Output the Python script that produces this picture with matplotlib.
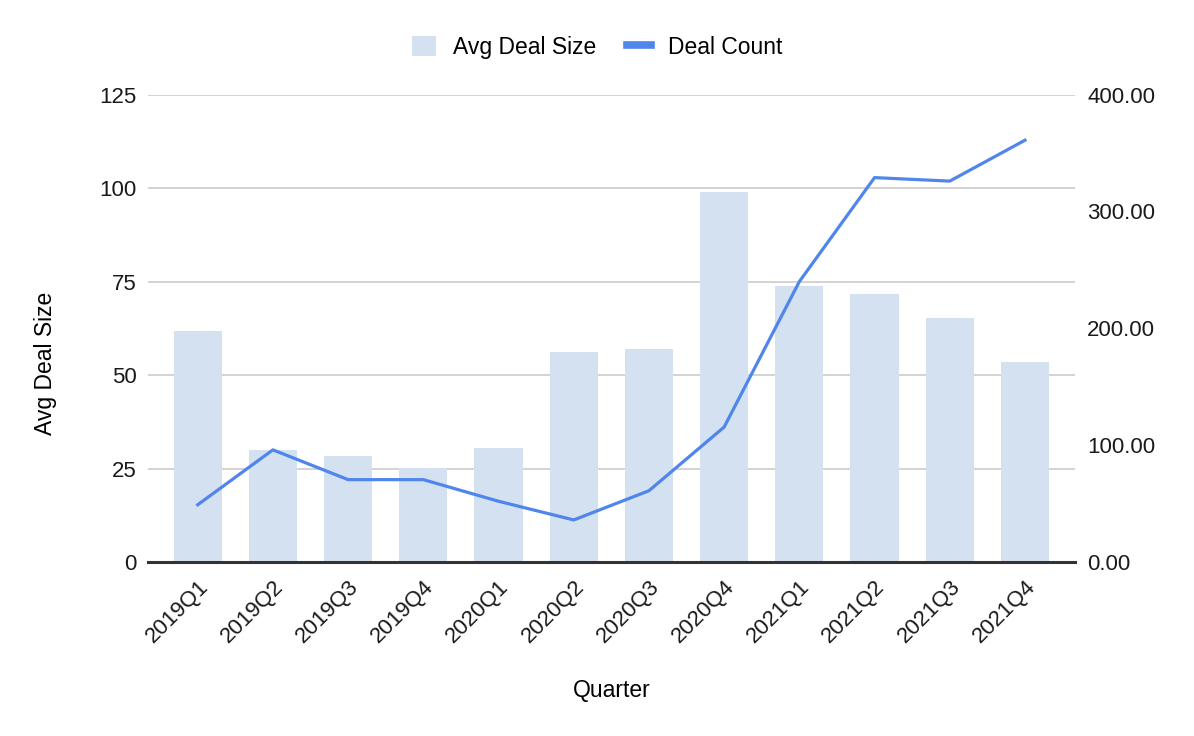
import numpy as np
import matplotlib
matplotlib.use('Agg')
import matplotlib.pyplot as plt
from matplotlib.lines import Line2D
from matplotlib.patches import Patch

# data
quarters = ['2019Q1', '2019Q2', '2019Q3', '2019Q4',
            '2020Q1', '2020Q2', '2020Q3', '2020Q4',
            '2021Q1', '2021Q2', '2021Q3', '2021Q4']
avg_deal_size = [61.8, 30.0, 28.4, 25.1, 30.5, 56.1, 57.1, 99.0, 73.9, 71.8, 65.3, 53.6]
deal_count = [49, 96, 70.5, 70.5, 52, 36, 61, 115.5, 240, 329, 326, 361]

bar_color = '#d4e1f1'
line_color = '#5086ec'
tick_fs = 16
label_fs = 16.5

plt.rcParams['font.family'] = ['Liberation Sans', 'DejaVu Sans']

fig = plt.figure(figsize=(11.94, 7.36), dpi=100)
ax = fig.add_axes([0.124, 0.2364, 0.776, 0.635])
ax2 = ax.twinx()

x = np.arange(len(quarters))
ax.bar(x, avg_deal_size, width=0.64, color=bar_color, zorder=2)
ax2.plot(x, deal_count, color=line_color, lw=2.3, zorder=3)

ax.set_xlim(-0.66, len(quarters) - 0.34)
ax.set_ylim(0, 125)
ax.set_yticks([0, 25, 50, 75, 100, 125])
ax2.set_ylim(0, 400)
ax2.set_yticks([0, 100, 200, 300, 400])
ax2.set_yticklabels(['%.2f' % v for v in [0, 100, 200, 300, 400]])

# gridlines only follow the left axis
ax.yaxis.grid(True, color='#cccccc', lw=1.2, zorder=0)
ax.set_axisbelow(True)
ax2.set_zorder(ax.get_zorder() + 1)
ax2.patch.set_visible(False)

for a in (ax, ax2):
    for s in a.spines.values():
        s.set_visible(False)
    a.tick_params(length=0, labelsize=tick_fs, colors='#1a1a1a')
ax.axhline(0, color='#333333', lw=2.2, zorder=4, clip_on=False)

ax.set_xticks(x)
ax.set_xticklabels(quarters, rotation=45, ha='right', rotation_mode='anchor')
ax.tick_params(axis='x', pad=10)
ax.tick_params(axis='y', pad=8)
ax2.tick_params(axis='y', pad=9)

ax.set_ylabel('Avg Deal Size', fontsize=label_fs, va='center')
ax.yaxis.set_label_coords(-0.111, 0.425)
ax.set_xlabel('Quarter', fontsize=label_fs, va='center')
ax.xaxis.set_label_coords(0.5, -0.275)

handles = [Patch(facecolor=bar_color, edgecolor='none', label='Avg Deal Size'),
           Line2D([0], [0], color=line_color, lw=5.5, label='Deal Count')]
fig.legend(handles=handles, loc='center', bbox_to_anchor=(0.5, 0.936), ncol=2,
           frameon=False, fontsize=label_fs, handlelength=1.05, handleheight=1.0,
           columnspacing=1.35, handletextpad=0.74)

fig.savefig('out.png', dpi=100)
